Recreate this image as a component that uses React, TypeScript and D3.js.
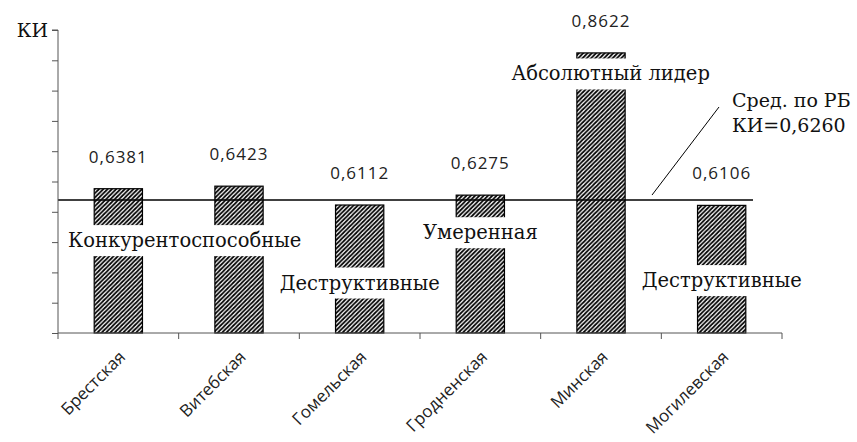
import React, { useEffect, useRef } from "react";
import * as d3 from "d3";

const regions = ["Брестская", "Витебская", "Гомельская", "Гродненская", "Минская", "Могилевская"];
const kiValues = [0.6381, 0.6423, 0.6112, 0.6275, 0.8622, 0.6106];
const valueLabels = ["0,6381", "0,6423", "0,6112", "0,6275", "0,8622", "0,6106"];
const meanKI = 0.626;
const yTickValues = [0.4, 0.45, 0.5, 0.55, 0.6, 0.65, 0.7, 0.75, 0.8, 0.85, 0.9];
const yDomain = [0.4, 0.9];
// group annotations: text, position in data space (band index, value)
const groupTexts = ["Конкурентоспособные", "Деструктивные", "Умеренная", "Абсолютный лидер", "Деструктивные"];
const groupBand = [0.55, 2, 3, 4.08, 5];
const groupValue = [0.553, 0.483, 0.566, 0.828, 0.487];
const meanNoteLines = ["Сред. по РБ", "КИ=0,6260"];

const W = 857;
const H = 442;
const SERIF = "'DejaVu Serif', 'Liberation Serif', serif";
const SANS = "'Open Sans', 'Liberation Sans', sans-serif";

export default function App() {
  const ref = useRef<SVGSVGElement>(null);

  useEffect(() => {
    const svg = d3.select(ref.current);
    svg.selectAll("*").remove();

    const left = 58, right = 782, top = 30, bottom = 333;
    const x = d3.scaleBand<string>().domain(regions).range([left, right]);
    const y = d3.scaleLinear().domain(yDomain).range([bottom, top]);
    const bw = x.bandwidth();
    const barW = bw * 0.4;
    const xc = (i: number) => left + bw * (i + 0.5);

    const defs = svg.append("defs");
    const s = 4.3;
    defs
      .append("pattern")
      .attr("id", "hatch")
      .attr("patternUnits", "userSpaceOnUse")
      .attr("width", s)
      .attr("height", s)
      .append("path")
      .attr("d", `M${-s / 2},${s / 2} L${s / 2},${-s / 2} M0,${s} L${s},0 M${s / 2},${s * 1.5} L${s * 1.5},${s / 2}`)
      .attr("stroke", "#000")
      .attr("stroke-width", 1.7);

    svg.append("rect").attr("width", W).attr("height", H).attr("fill", "#fff");

    // bars
    svg
      .append("g")
      .selectAll("rect")
      .data(kiValues)
      .join("rect")
      .attr("x", (d, i) => x(regions[i])! + (bw - barW) / 2)
      .attr("y", (d) => y(d))
      .attr("width", barW)
      .attr("height", (d) => y(yDomain[0]) - y(d))
      .attr("fill", "url(#hatch)")
      .attr("stroke", "#000")
      .attr("stroke-width", 1.2);

    // mean line (drawn slightly below its nominal value, as in the source)
    const meanY = y(meanKI) + 4;
    svg
      .append("line")
      .attr("x1", left)
      .attr("x2", 753)
      .attr("y1", meanY)
      .attr("y2", meanY)
      .attr("stroke", "#000")
      .attr("stroke-width", 1.4);

    // axes
    const axisColor = "#555";
    const yAxis = svg
      .append("g")
      .attr("transform", `translate(${left},0)`)
      .call(d3.axisLeft(y).tickValues(yTickValues).tickSize(6).tickFormat(() => ""));
    yAxis.select(".domain").attr("stroke", axisColor).attr("d", `M-6,${top}H0V${bottom}`);
    yAxis.selectAll(".tick line").attr("stroke", axisColor);

    const xAxis = svg.append("g").attr("transform", `translate(0,${bottom})`);
    xAxis.append("line").attr("x1", left).attr("x2", right).attr("stroke", axisColor);
    const boundaries = regions.map((r) => x(r)!).concat([right]);
    xAxis
      .selectAll("line.tk")
      .data(boundaries)
      .join("line")
      .attr("class", "tk")
      .attr("x1", (d) => d)
      .attr("x2", (d) => d)
      .attr("y1", 0)
      .attr("y2", 6)
      .attr("stroke", axisColor);
    xAxis
      .selectAll("text")
      .data(regions)
      .join("text")
      .attr("transform", (d, i) => `translate(${xc(i) + 8},${25}) rotate(-45)`)
      .attr("text-anchor", "end")
      .style("font-family", SANS)
      .attr("font-size", 17)
      .attr("fill", "#222")
      .text((d) => d);

    // y title
    svg
      .append("text")
      .attr("x", 48)
      .attr("y", top + 7)
      .attr("text-anchor", "end")
      .style("font-family", SERIF)
      .attr("font-size", 19)
      .attr("fill", "#111")
      .text("КИ");

    // value labels
    svg
      .append("g")
      .selectAll("text")
      .data(kiValues)
      .join("text")
      .attr("x", (d, i) => xc(i))
      .attr("y", (d) => y(d) - 32)
      .attr("dy", "0.35em")
      .attr("text-anchor", "middle")
      .style("font-family", SANS)
      .attr("font-size", 17)
      .attr("letter-spacing", 1)
      .attr("fill", "#222")
      .text((d, i) => valueLabels[i]);

    // group annotations with white boxes
    const ga = svg.append("g");
    groupTexts.forEach((t, i) => {
      const g = ga.append("g");
      const txt = g
        .append("text")
        .attr("x", xc(groupBand[i]))
        .attr("y", y(groupValue[i]))
        .attr("dy", "0.35em")
        .attr("text-anchor", "middle")
        .style("font-family", SERIF)
        .attr("font-size", 19.5)
        .attr("fill", "#111")
        .text(t);
      const bb = (txt.node() as SVGTextElement).getBBox();
      g.insert("rect", "text")
        .attr("x", bb.x - 3)
        .attr("y", bb.y - 4)
        .attr("width", bb.width + 6)
        .attr("height", bb.height + 8)
        .attr("fill", "#fff");
    });

    // mean note
    svg
      .append("line")
      .attr("x1", 652)
      .attr("y1", meanY - 5)
      .attr("x2", 719)
      .attr("y2", 107)
      .attr("stroke", "#000")
      .attr("stroke-width", 1);
    svg
      .append("g")
      .selectAll("text")
      .data(meanNoteLines)
      .join("text")
      .attr("x", 732)
      .attr("y", (d, i) => 100 + i * 25)
      .attr("dy", "0.35em")
      .style("font-family", SERIF)
      .attr("font-size", 19)
      .attr("fill", "#111")
      .text((d) => d);
  }, []);

  return (
    <svg
      ref={ref}
      width={W}
      height={H}
      style={{ position: "absolute", left: 0, top: 0, display: "block" }}
    />
  );
}
